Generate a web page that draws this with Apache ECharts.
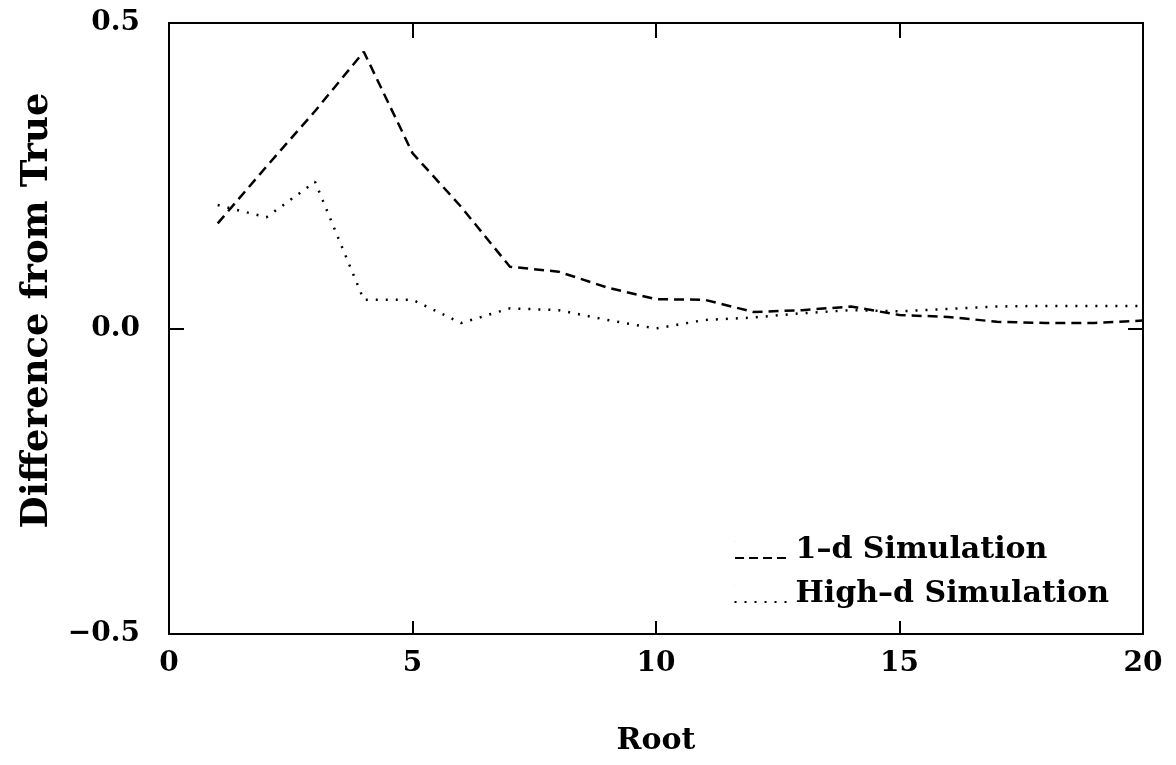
<!DOCTYPE html>
<html>
<head>
<meta charset="utf-8">
<script src="https://cdn.jsdelivr.net/npm/echarts@6/dist/echarts.min.js"></script>
<style>
  html, body { margin: 0; padding: 0; background: #fff; }
  #rootChart { width: 1176px; height: 765px; }
</style>
</head>
<body>
<div id="rootChart"></div>
<script>
// roots 1..20
const roots = [1, 2, 3, 4, 5, 6, 7, 8, 9, 10, 11, 12, 13, 14, 15, 16, 17, 18, 19, 20];
const oneD = [0.172, 0.265, 0.356, 0.453, 0.287, 0.199, 0.101, 0.093, 0.067, 0.048,
              0.047, 0.027, 0.030, 0.036, 0.022, 0.019, 0.011, 0.009, 0.009, 0.013];
const highD = [0.202, 0.182, 0.240, 0.047, 0.047, 0.009, 0.033, 0.030, 0.014, 0.000,
               0.014, 0.018, 0.025, 0.030, 0.028, 0.032, 0.036, 0.037, 0.037, 0.037];
const seriesNames = ["1\u2013d Simulation", "High\u2013d Simulation"];

const font = "DejaVu Serif";

// legend samples: short dashes / dots sitting low, like the printed key
const dashIcon = "path://M0,0h0.3v0.3h-0.3z M0,16h9v2h-9z M14,16h9v2h-9z M28,16h9v2h-9z M42,16h9v2h-9z";
const dotIcon = "path://M0,0h0.3v0.3h-0.3z M0,16h2v2h-2z M10,16h2v2h-2z M20,16h2v2h-2z M30,16h2v2h-2z M40,16h2v2h-2z M50,16h2v2h-2z";

function pairs(ys) {
  return roots.map((r, i) => [r, ys[i]]);
}

const chart = echarts.init(document.getElementById("rootChart"));

const hiddenAxis = {
  axisLine: { show: false, onZero: false },
  axisLabel: { show: false },
  splitLine: { show: false }
};

chart.setOption({
  backgroundColor: "#fff",
  animation: false,
  grid: {
    left: 169, right: 33, top: 23, bottom: 131,
    show: true, borderColor: "#000", borderWidth: 2
  },
  legend: {
    orient: "vertical",
    right: 62,
    top: 530,
    itemGap: 14,
    itemWidth: 52,
    itemHeight: 18,
    textStyle: { fontFamily: font, fontSize: 30, fontWeight: "bold", color: "#000", padding: [0, 0, 0, 4] },
    data: [
      { name: seriesNames[0], icon: dashIcon },
      { name: seriesNames[1], icon: dotIcon }
    ]
  },
  xAxis: [
    {
      type: "value", min: 0, max: 20, interval: 5,
      name: "Root", nameLocation: "middle", nameGap: 92,
      nameTextStyle: { fontFamily: font, fontSize: 30, fontWeight: "bold", color: "#000" },
      axisLine: { show: false, onZero: false },
      axisTick: { inside: true, length: 13, lineStyle: { color: "#000", width: 2 } },
      axisLabel: { fontFamily: font, fontSize: 28, fontWeight: "bold", color: "#000", margin: 16 },
      splitLine: { show: false }
    },
    Object.assign({
      type: "value", min: 0, max: 20, interval: 5, position: "top",
      axisTick: { inside: true, length: 15, lineStyle: { color: "#000", width: 2 } }
    }, hiddenAxis)
  ],
  yAxis: [
    {
      type: "value", min: -0.5, max: 0.5, interval: 0.5,
      name: "Difference from True", nameLocation: "middle", nameGap: 113,
      nameTextStyle: {
        fontFamily: font, fontSize: 37, fontWeight: "bold", color: "#000",
        padding: [0, 0, 0, 36]
      },
      axisLine: { show: false, onZero: false },
      axisTick: { inside: true, length: 15, lineStyle: { color: "#000", width: 2 } },
      axisLabel: {
        fontFamily: font, fontSize: 28, fontWeight: "bold", color: "#000", margin: 29,
        formatter: v => v.toFixed(1).replace("-", "\u2212")
      },
      splitLine: { show: false }
    },
    Object.assign({
      type: "value", min: -0.5, max: 0.5, interval: 0.5, position: "right",
      axisTick: { inside: true, length: 15, lineStyle: { color: "#000", width: 2 } }
    }, hiddenAxis)
  ],
  series: [
    {
      name: seriesNames[0],
      type: "line",
      symbol: "none",
      data: pairs(oneD),
      lineStyle: { color: "#000", width: 2.5, type: [10, 6] },
      itemStyle: { color: "#000" }
    },
    {
      name: seriesNames[1],
      type: "line",
      symbol: "none",
      data: pairs(highD),
      lineStyle: { color: "#000", width: 2.5, type: [2, 8] },
      itemStyle: { color: "#000" }
    }
  ]
});
</script>
</body>
</html>
